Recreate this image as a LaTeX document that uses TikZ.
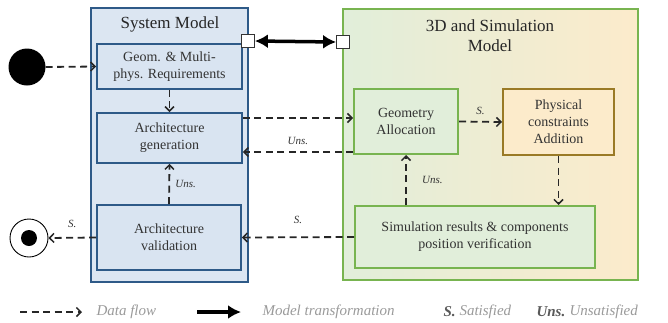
\documentclass[tikz,border=0pt]{standalone}
\usepackage{fontspec}
\setmainfont{Liberation Serif}
\usetikzlibrary{arrows.meta}
\definecolor{sysfill}{HTML}{DCE6F2}
\definecolor{sysdraw}{HTML}{2E5A88}
\definecolor{boxfill}{HTML}{D9E4F1}
\definecolor{gdraw}{HTML}{78B450}
\definecolor{gfill}{HTML}{E1EEDA}
\definecolor{ofill}{HTML}{FCEBCB}
\definecolor{odraw}{HTML}{9A7A26}
\definecolor{legtext}{HTML}{9A9A9A}
\definecolor{txt}{HTML}{333333}
\tikzset{
  outerbox/.style={draw, line width=1.6pt, inner sep=0pt},
  sysbox/.style={draw=sysdraw, fill=boxfill, line width=1.8pt, align=center, text=txt, font=\fontsize{14}{17}\selectfont, inner sep=0pt},
  grbox/.style={draw=gdraw, fill=gfill, line width=2pt, align=center, text=txt, font=\fontsize{14}{17}\selectfont, inner sep=0pt},
  orbox/.style={draw=odraw, fill=ofill, line width=2pt, align=center, text=txt, font=\fontsize{14}{17}\selectfont, inner sep=0pt},
  flow/.style={dashed, dash pattern=on 7pt off 4.5pt, line width=1.8pt, draw=black!85, -{Straight Barb[length=4.5pt,width=9pt,line width=1.5pt]}},
  transf/.style={line width=3.5pt, {Latex[length=13pt,width=14pt]}-{Latex[length=13pt,width=14pt]}},
  port/.style={draw=black!80, fill=white, line width=0.8pt, minimum size=13pt, inner sep=0pt},
  lab/.style={font=\fontsize{11}{13}\selectfont\itshape, text=txt},
  title/.style={font=\fontsize{17}{20}\selectfont, align=center, text=black!85},
  legtxt/.style={font=\fontsize{15}{18}\selectfont\itshape, text=legtext, anchor=west},
  legkey/.style={font=\fontsize{15}{18}\selectfont\bfseries\itshape, text=black!65, anchor=west}
}
\begin{document}
\begin{tikzpicture}[x=1pt,y=-1pt]
\useasboundingbox (0,0) rectangle (668,322);
% outer containers
\node[outerbox, draw=sysdraw, fill=sysfill, minimum width=157pt, minimum height=274pt] (sys) at (169.5,145) {};
\node[outerbox, draw=gdraw, left color=gfill, right color=ofill, minimum width=295pt, minimum height=271pt] (sim) at (490.5,144.5) {};
\node[title] (systitle) at (170,24) {System Model};
\node[title] (simtitle) at (490,36) {3D and Simulation\\Model};
% inner boxes
\node[sysbox, minimum width=145pt, minimum height=45pt] (geom) at (169.5,66.5) {Geom. \& Multi-\\phys. Requirements};
\node[sysbox, minimum width=145pt, minimum height=50pt] (archgen) at (169.5,138) {Architecture\\generation};
\node[sysbox, minimum width=144pt, minimum height=65pt] (archval) at (169,237.5) {Architecture\\validation};
\node[grbox, minimum width=104pt, minimum height=65pt] (geo) at (406,121.5) {Geometry\\Allocation};
\node[orbox, minimum width=111pt, minimum height=66pt] (phys) at (558.5,122) {Physical\\constraints\\Addition};
\node[grbox, minimum width=240pt, minimum height=62pt] (simres) at (475,237) {Simulation results \& components\\position verification};
% start / end
\node[circle, fill=black, minimum size=37pt, inner sep=0pt] (start) at (27,67) {};
\node[circle, draw=black, line width=0.9pt, fill=white, minimum size=38pt, inner sep=0pt] (stop) at (29,238) {};
\node[circle, fill=black, minimum size=16pt, inner sep=0pt] (stopdot) at (stop.center) {};
% ports
\node[port] (p1) at (248,41) {};
\node[port] (p2) at (343,42) {};
\draw[transf] (p1.east) -- (p2.west);
% helper rows
\coordinate (yA) at (0,118);
\coordinate (yB) at (0,152);
% flows
\draw[flow] (start.east) -- (geom.west);
\draw[flow] (geom.south) -- (archgen.north);
\draw[flow] (archval.north) -- node[lab, right=2pt, pos=0.5] (l1) {Uns.} (archgen.south);
\draw[flow] (archgen.east |- yA) -- (geo.west |- yA);
\draw[flow] (geo.west |- yB) -- node[lab, above=3pt] (l2) {Uns.} (archgen.east |- yB);
\draw[flow] (geo.east) -- node[lab, above=3pt] (l3) {S.} (phys.west);
\draw[flow] (phys.south) -- (phys.south |- simres.north);
\draw[flow] (geo.south |- simres.north) -- node[lab, right=12pt] (l4) {Uns.} (geo.south);
\draw[flow] (simres.west) -- node[lab, above=9pt] (l5) {S.} (archval.east);
\draw[flow] (archval.west) -- node[lab, above=6pt] (l6) {S.} (stop.east);
% legend
\coordinate (d1) at (20,312);
\coordinate (d2) at (82,312);
\draw[flow] (d1) -- (d2);
\node[legtxt] (ldf) at (93,312) {Data flow};
\coordinate (m1) at (197,312);
\coordinate (m2) at (241,312);
\draw[line width=3.5pt, -{Latex[length=13pt,width=14pt]}] (m1) -- (m2);
\node[legtxt] (lmt) at (259,312) {Model transformation};
\node[legkey] (ls) at (440,312) {S.};
\node[legtxt] (lsat) at (456,312) {Satisfied};
\node[legkey] (lu) at (533,312) {Uns.};
\node[legtxt] (luns) at (566,312) {Unsatisfied};
\end{tikzpicture}
\end{document}
